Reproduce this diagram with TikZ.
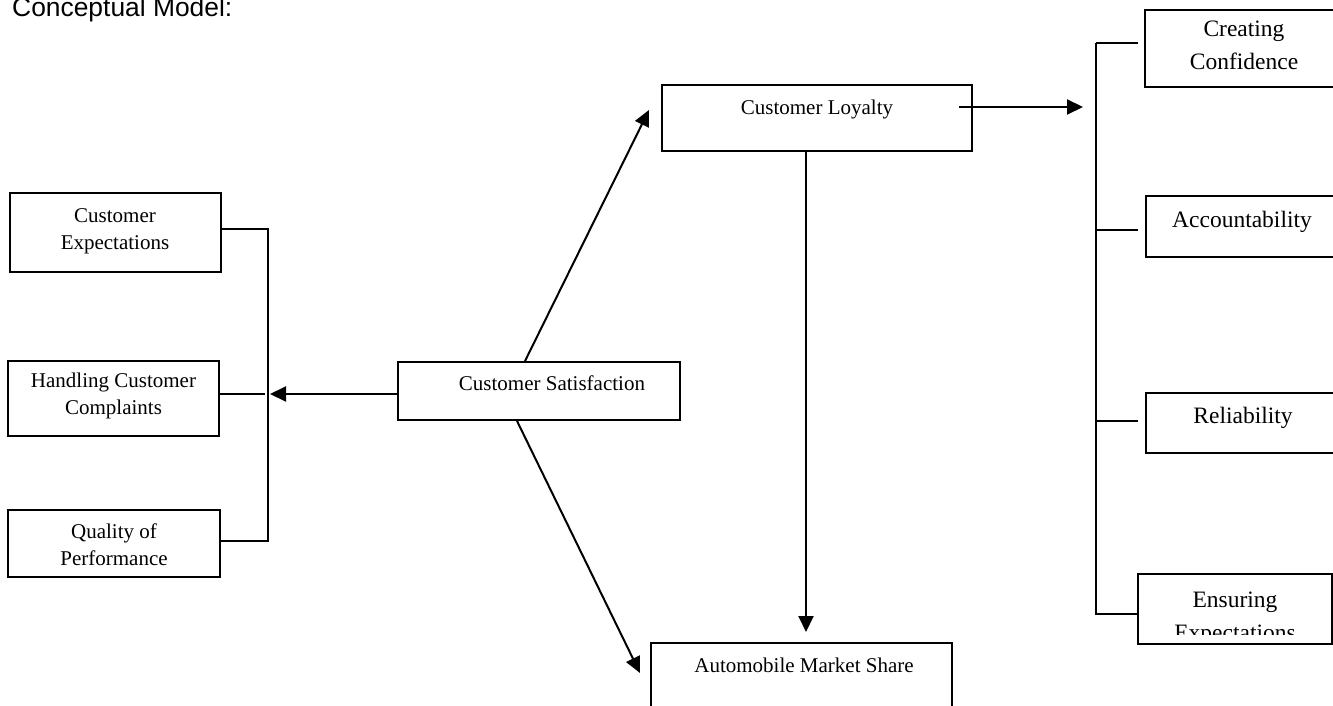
\documentclass[tikz,border=0pt]{standalone}
\usepackage{fontspec}
\setmainfont{Liberation Serif}
\newfontfamily\headfont{Liberation Sans}
\usetikzlibrary{arrows.meta,positioning,calc}

\begin{document}
\begin{tikzpicture}[x=1pt,y=-1pt,
  box/.style={draw, line width=1.9pt, inner sep=0pt},
  txt/.style={inner sep=0pt, align=center, font=\fontsize{21}{27}\selectfont},
  bigtxt/.style={inner sep=0pt, align=center, font=\fontsize{23.5}{33}\selectfont},
  wire/.style={line width=1.9pt},
  arr/.style={line width=2pt, -{Triangle[length=16pt,width=15pt]}}]
\clip (0,0) rectangle (1333,706);
\node[anchor=base west, inner sep=0pt, font=\headfont\fontsize{26.4}{30}\selectfont] (title) at (12,17) {Conceptual Model:};
% left side
\node[box, minimum width=211, minimum height=79] (CE) at (115.5,232.5) {};
\node[box, minimum width=211, minimum height=75] (HC) at (113.5,398.5) {};
\node[box, minimum width=212, minimum height=67] (QP) at (114,543.5) {};
\node[txt] (CEt) at (115,231) {Customer\\Expectations};
\node[txt] (HCt) at (113.5,395.5) {Handling Customer\\Complaints};
\node[txt] (QPt) at (114,544.5) {Quality of\\Performance};
% middle
\node[box, minimum width=282, minimum height=58] (CS) at (539,391) {};
\node[txt] (CSt) at (552,383) {Customer Satisfaction};
\node[box, minimum width=310, minimum height=66] (CL) at (817,118) {};
\node[txt] (CLt) at (817,109) {Customer Loyalty};
\node[box, minimum width=301, minimum height=77] (AM) at (801.5,681.5) {};
\node[txt] (AMt) at (804,665) {Automobile Market Share};
% right side
\node[box, minimum width=198, minimum height=77] (CC) at (1244,48.5) {};
\node[box, minimum width=197, minimum height=61] (AC) at (1244.5,226.5) {};
\node[box, minimum width=197, minimum height=60] (RE) at (1244.5,423) {};
\node[box, minimum width=194, minimum height=70] (EE) at (1235,609) {};
\node[bigtxt] (CCt) at (1244,45.5) {Creating\\Confidence};
\node[bigtxt] (ACt) at (1242,222) {Accountability};
\node[bigtxt] (REt) at (1243,418) {Reliability};
\begin{scope}
\clip (1138,574) rectangle (1332,634);
\node[bigtxt] (EEt) at (1235,619) {Ensuring\\Expectations};
\end{scope}
% joins
\coordinate (lt) at (268,229);
\coordinate (lb) at (268,541);
\coordinate (hub) at (270,394);
\coordinate (rt) at (1096,43);
\coordinate (rb) at (1096,614);
\coordinate (clo) at (959,107);
\coordinate (tipR) at (1083,107);
\coordinate (tipL) at (649,110);
\coordinate (tipA) at (640,673);
\coordinate (tipV) at (806,632);
\draw[wire] (CE.east |- lt) -- (lt) -- (lb) -- (QP.east |- lb);
\draw[wire] (HC.east |- hub) -- (265,394);
\draw[wire] (rt) -- (rb) -- (EE.west |- rb);
\foreach \b/\y in {CC/43,AC/230,RE/421}{\draw[wire] (1096,\y) -- (1138,\y);}
\draw[arr] (CS.west |- hub) -- (hub);
\draw[arr] ([xshift=-14pt]CS.north) -- (tipL);
\draw[arr] ([xshift=-22pt]CS.south) -- (tipA);
\draw[arr] (CL.south -| tipV) -- (tipV);
\draw[arr] (clo) -- (tipR);
\end{tikzpicture}
\end{document}
